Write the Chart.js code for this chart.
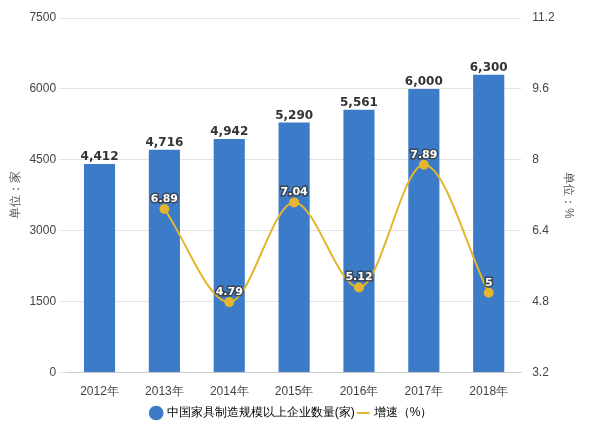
<!DOCTYPE html>
<html><head><meta charset="utf-8">
<script src="https://cdn.jsdelivr.net/npm/chart.js@4"></script>
<style>body{margin:0;background:#fff}#w{width:590px;height:429px}</style>
</head><body><div id="w"><canvas id="c"></canvas></div>
<script>
var categories = ['2012年','2013年','2014年','2015年','2016年','2017年','2018年'];
var companyCounts = [4412,4716,4942,5290,5561,6000,6300];
var growthRates = [null,6.89,4.79,7.04,5.12,7.89,5];

var labelPlugin = {
  id: 'labels',
  afterDatasetsDraw: function (chart) {
    var ctx = chart.ctx;
    ctx.save();
    ctx.textAlign = 'center';
    ctx.font = 'bold 12px "DejaVu Sans", sans-serif';
    ctx.fillStyle = '#333';
    chart.getDatasetMeta(0).data.forEach(function (bar, i) {
      ctx.fillText(companyCounts[i].toLocaleString('en-US'), bar.x, bar.y - 7);
    });
    ctx.font = 'bold 11px "DejaVu Sans", sans-serif';
    chart.getDatasetMeta(1).data.forEach(function (pt, i) {
      if (growthRates[i] === null) return;
      ctx.lineWidth = 3;
      ctx.strokeStyle = 'rgba(60,60,60,0.8)';
      ctx.strokeText(String(growthRates[i]), pt.x, pt.y - 10);
      ctx.fillStyle = '#fff';
      ctx.fillText(String(growthRates[i]), pt.x, pt.y - 10);
    });
    ctx.restore();
  }
};

new Chart(document.getElementById('c'), {
  type: 'bar',
  data: {
    labels: categories,
    datasets: [{
      label: '中国家具制造规模以上企业数量(家)',
      data: companyCounts,
      backgroundColor: '#3b7bc8',
      barPercentage: 0.48,
      categoryPercentage: 1,
      yAxisID: 'y',
      order: 2
    }, {
      type: 'line',
      label: '增速（%）',
      data: growthRates,
      borderColor: '#e4b52e',
      backgroundColor: '#e4b52e',
      borderWidth: 2,
      pointRadius: 4,
      cubicInterpolationMode: 'monotone',
      yAxisID: 'y1',
      order: 1
    }]
  },
  options: {
    responsive: true, maintainAspectRatio: false, animation: false,
    layout: { padding: { top: 18, right: 10, left: 4, bottom: 0 } },
    plugins: {
      tooltip: { enabled: false },
      legend: {
        position: 'bottom',
        labels: { usePointStyle: true, pointStyle: 'circle', boxWidth: 9, boxHeight: 9,
          font: { size: 12 }, color: '#333', padding: 4,
          generateLabels: function (chart) {
            return chart.data.datasets.map(function (d, i) {
              return { text: d.label, fillStyle: d.backgroundColor, strokeStyle: d.backgroundColor,
                pointStyle: i === 0 ? 'circle' : 'line', lineWidth: 2, datasetIndex: i };
            });
          }
        }
      }
    },
    scales: {
      x: { grid: { display: false }, ticks: { color: '#444', font: { size: 12 }, padding: 4 } },
      y: {
        min: 0, max: 7500,
        ticks: { stepSize: 1500, color: '#444', font: { size: 12 },
          callback: function (v) { return String(v); } },
        grid: { color: '#e3e3e3' }, border: { display: false },
        title: { display: true, text: '单位：家', color: '#555', font: { size: 12 } }
      },
      y1: {
        position: 'right', min: 3.2, max: 11.2,
        ticks: { stepSize: 1.6, color: '#444', font: { size: 12 },
          callback: function (v) { return Math.round(v * 10) / 10; } },
        grid: { display: false }, border: { display: false },
        title: { display: true, text: '单位：%', color: '#555', font: { size: 12 } }
      }
    }
  },
  plugins: [labelPlugin]
});
</script></body></html>
